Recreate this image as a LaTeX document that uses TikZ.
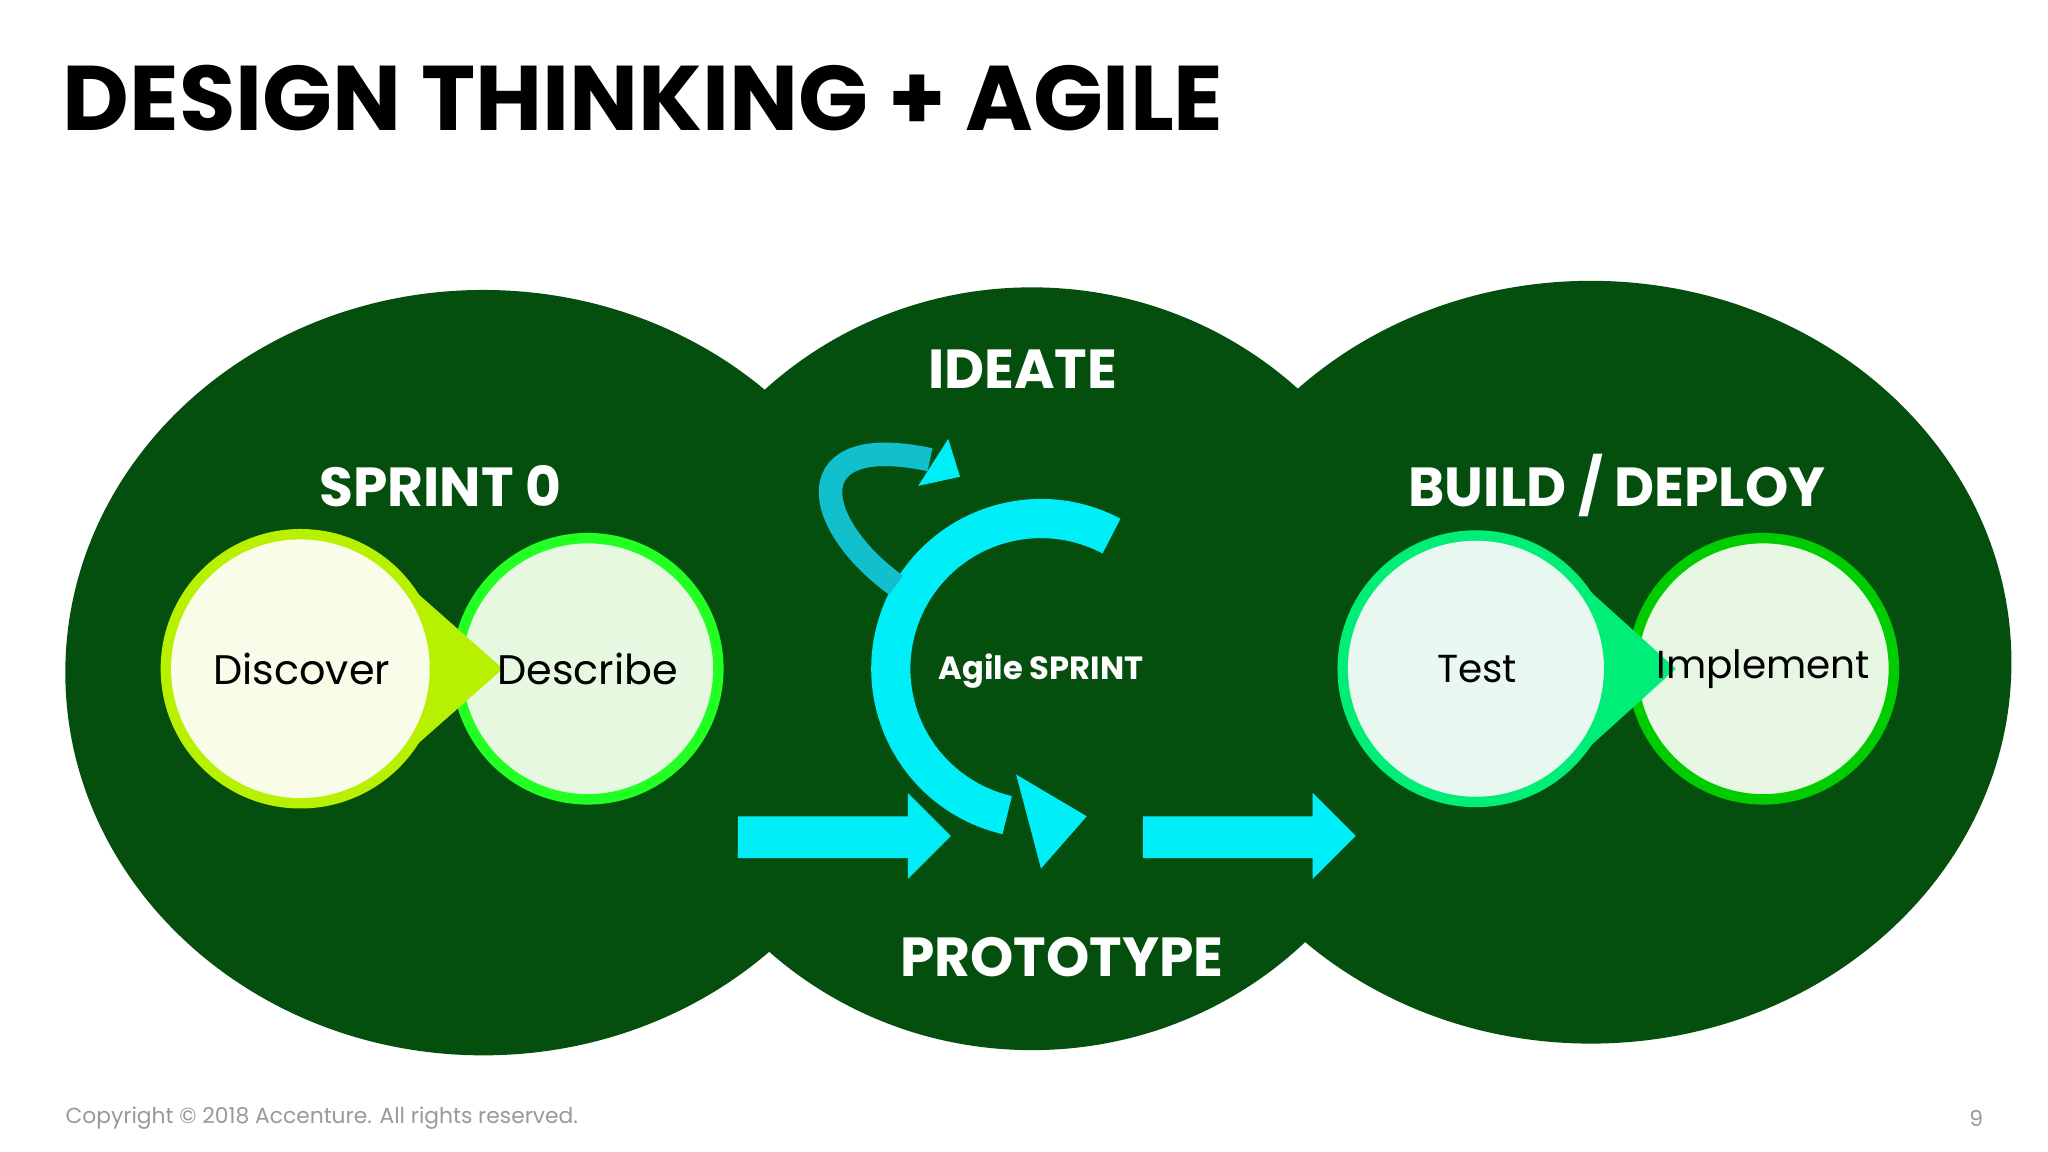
\documentclass[tikz,border=0pt]{standalone}
\usepackage{fontspec}
\setmainfont{Poppins}
\definecolor{dg}{HTML}{054F0E}
\definecolor{cy}{HTML}{00EEF8}
\definecolor{tl}{HTML}{12BFCC}
\definecolor{yg}{HTML}{B7F000}
\definecolor{lg}{HTML}{22FF22}
\definecolor{mg}{HTML}{00EE77}
\definecolor{ig}{HTML}{00CC00}
\definecolor{fdisc}{HTML}{F8FCE8}
\definecolor{fdesc}{HTML}{E6F8E0}
\definecolor{ftest}{HTML}{E8F8F0}
\definecolor{fimpl}{HTML}{E8F6E4}
\begin{document}
\begin{tikzpicture}[x=0.02cm,y=-0.02cm,
  lbl/.style={text=white,font=\fontsize{24}{28}\selectfont\bfseries},
  ctext/.style={font=\fontsize{18}{22}\selectfont}]
\useasboundingbox[fill=white] (0,0) rectangle (1568,882);
\node[anchor=west,font=\fontsize{40}{46}\selectfont\bfseries] (title) at (42,75) {DESIGN THINKING + AGILE};
% ellipses
\fill[dg] (370,515) ellipse [x radius=320,y radius=293];
\fill[dg] (1218,507) ellipse [x radius=322,y radius=292];
\fill[dg] (790,512) ellipse [x radius=300,y radius=292];
\node[lbl] (s0) at (337,372) {SPRINT 0};
\node[lbl] (id) at (783,283) {IDEATE};
\node[lbl] (bd) at (1238,372) {BUILD / DEPLOY};
\node[lbl] (pt) at (813,733) {PROTOTYPE};
% sprint 0 circles
\fill[yg] (230,512) circle (107);
\draw[line width=0.16cm,draw=lg,fill=fdesc] (450,512) circle (100);
\fill[yg] (300,437) -- (385,512) -- (300,587) -- cycle;
\fill[fdisc] (230,512) circle (99);
\node[ctext] (disc) at (231,512) {Discover};
\node[ctext] (desc) at (450,512) {Describe};
% build circles
\fill[mg] (1130,512) circle (106);
\draw[line width=0.16cm,draw=ig,fill=fimpl] (1350,512) circle (100);
\fill[mg] (1200,437) -- (1283,512) -- (1200,587) -- cycle;
\fill[ftest] (1130,512) circle (98);
\node[font=\fontsize{17}{20}\selectfont] (test) at (1131,512) {Test};
\node[font=\fontsize{17}{20}\selectfont] (impl) at (1350,512) {Implement};
% block arrows
\fill[cy] (565,625) -- (695,625) -- (695,607) -- (728,640) -- (695,673) -- (695,657) -- (565,657) -- cycle;
\fill[cy] (875,625) -- (1005,625) -- (1005,607) -- (1038,640) -- (1005,673) -- (1005,657) -- (875,657) -- cycle;
% agile circle
\draw[cy,line width=0.6cm] (797,512) ++(-62:115) arc[start angle=-62,end angle=-257,radius=115];
\fill[cy] (778,593) -- (832,625) -- (797,665) -- cycle;
\node[text=white,font=\fontsize{14}{16}\selectfont\bfseries] (ag) at (797,514) {Agile SPRINT};
% small curved arrow
\draw[tl,line width=0.36cm] (686,448) .. controls (620,400) and (610,330) .. (712,352);
\fill[cy] (703,372) -- (735,365) -- (726,336) -- cycle;
\node[anchor=west,text=gray!80,font=\fontsize{9.5}{11}\selectfont] (cp) at (44,856) {Copyright © 2018 Accenture. All rights reserved.};
\node[text=gray!80,font=\fontsize{9.5}{11}\selectfont] (pg) at (1513,856) {9};
\end{tikzpicture}
\end{document}
